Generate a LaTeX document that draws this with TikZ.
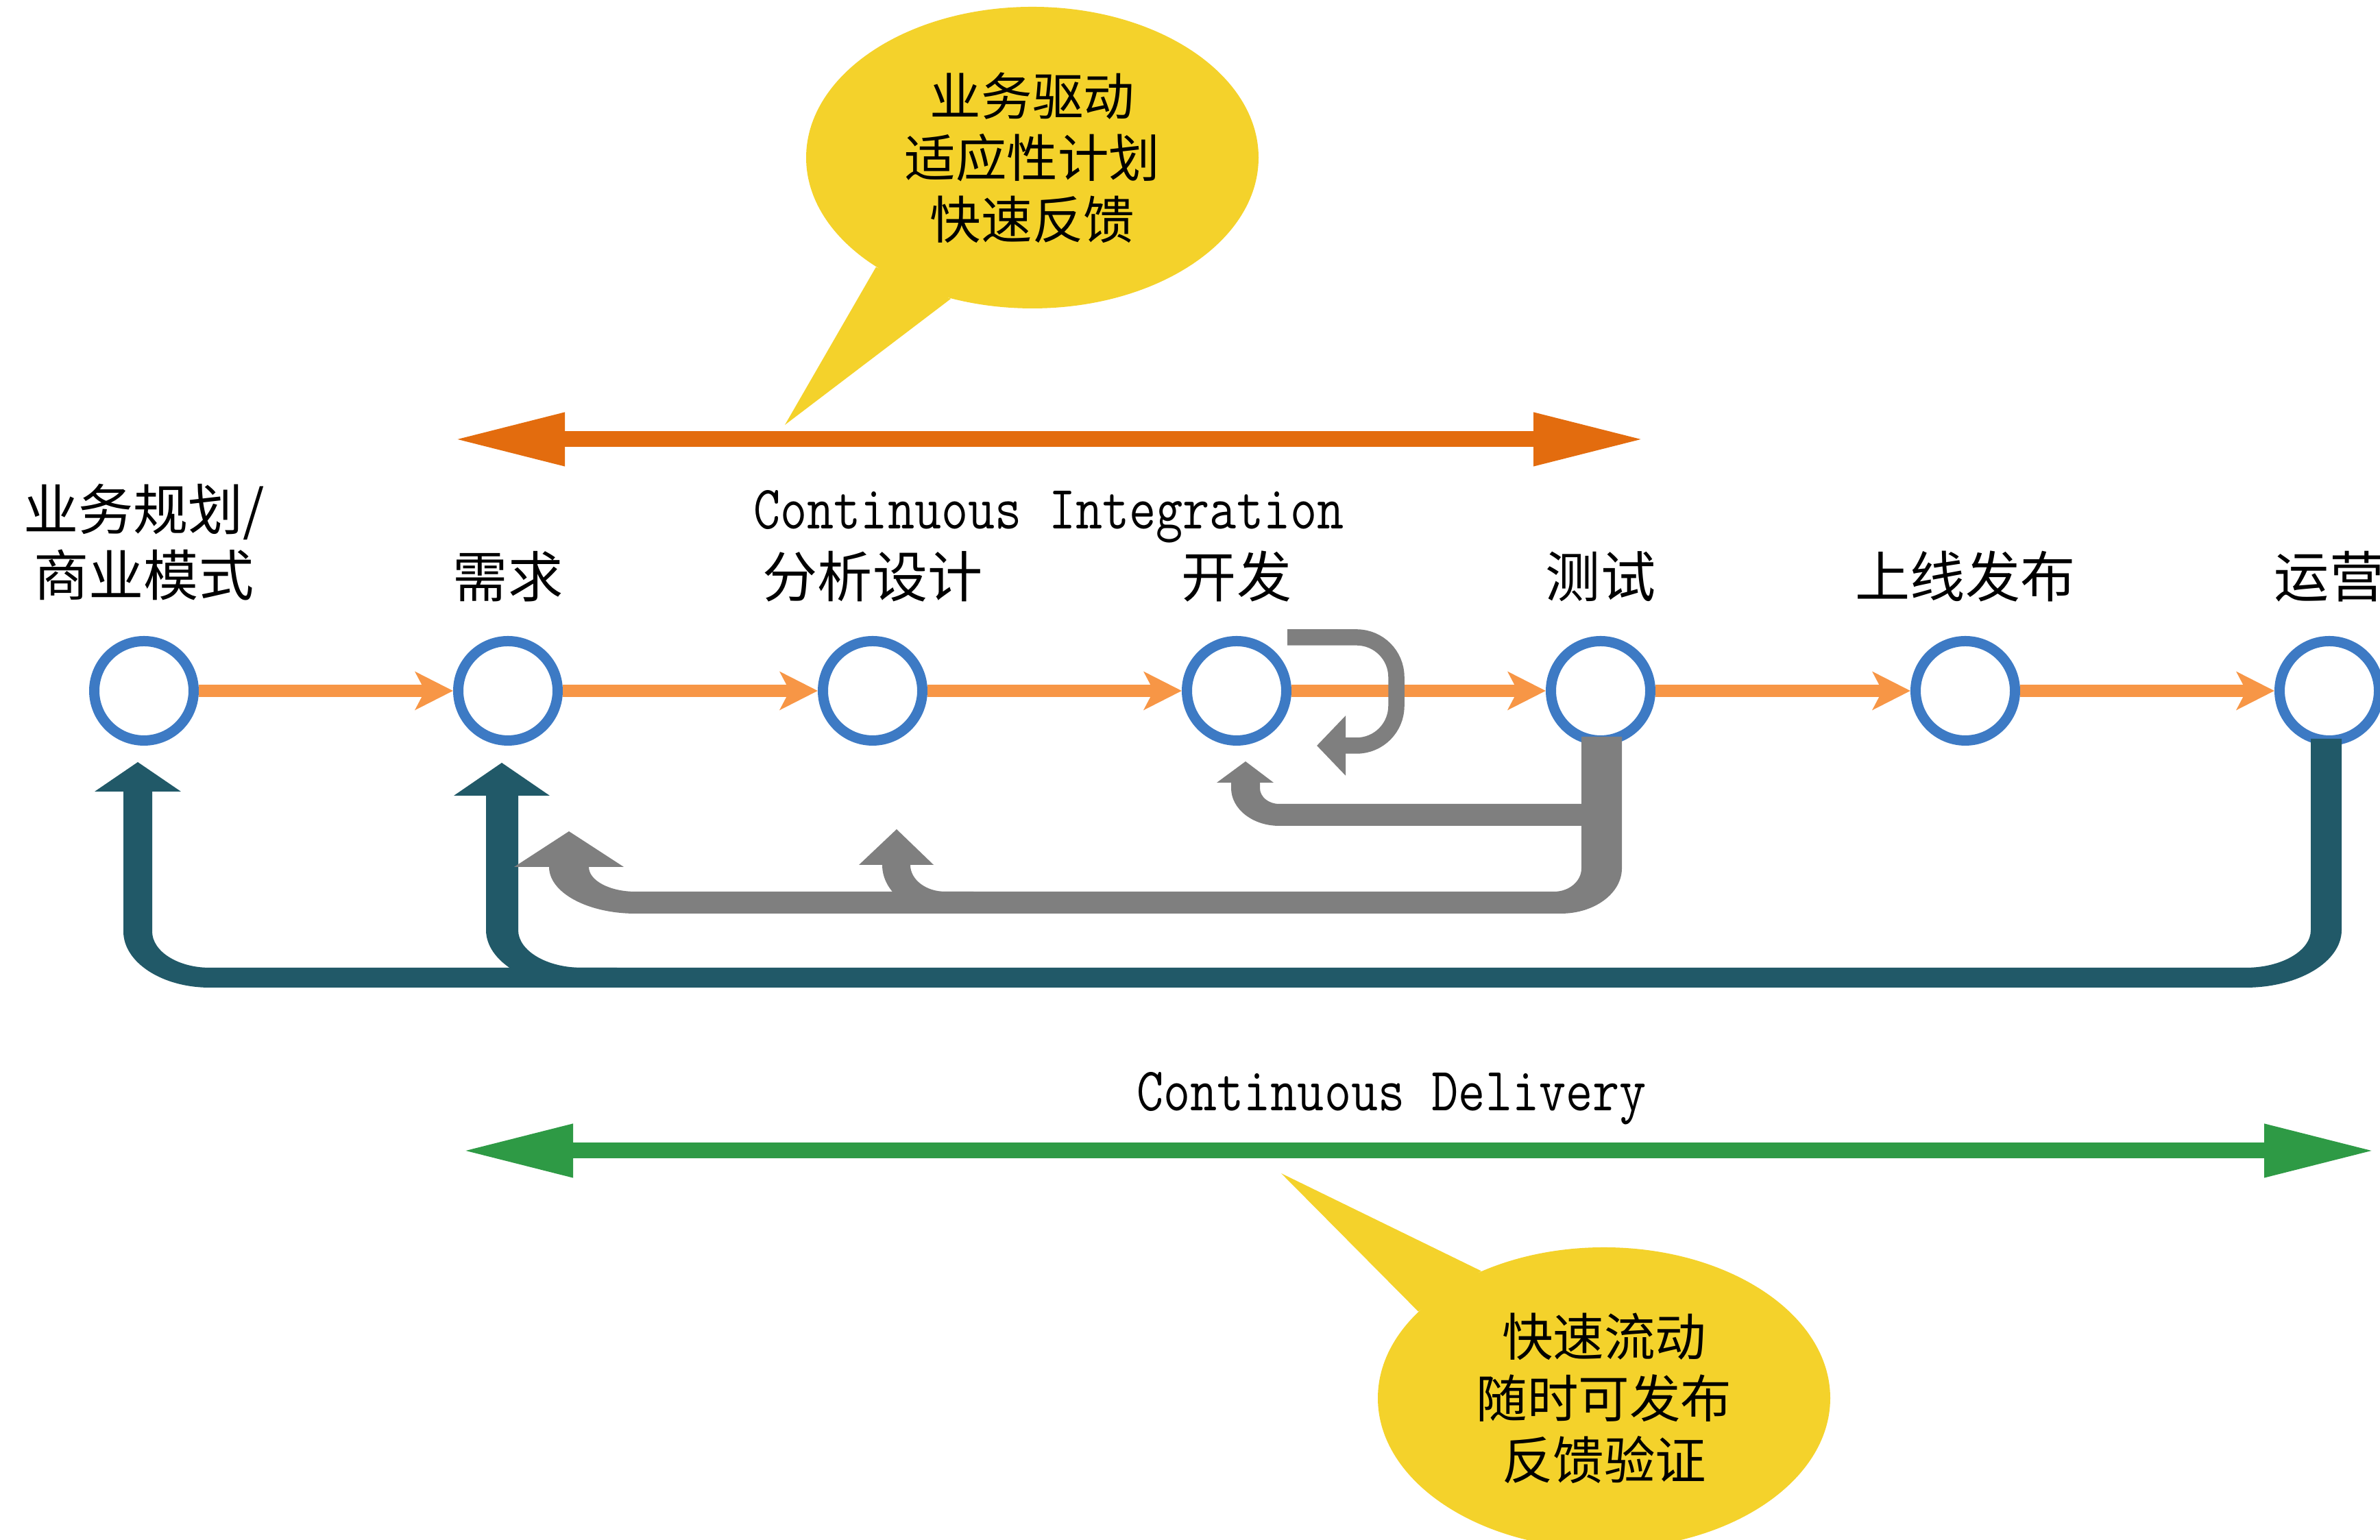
\documentclass[tikz,border=0pt]{standalone}
\usepackage{graphicx}
\usepackage{fontspec}
\newfontfamily\cjk{Noto Sans CJK SC}
\usetikzlibrary{arrows.meta,shapes.geometric}
\definecolor{flowOrange}{HTML}{F79646}
\definecolor{ringBlue}{HTML}{3D7AC4}
\definecolor{ciOrange}{HTML}{E36C0E}
\definecolor{cdGreen}{HTML}{2E9A45}
\definecolor{noteYellow}{HTML}{F4D22B}
\definecolor{opsTeal}{HTML}{215968}
\definecolor{loopGray}{HTML}{7F7F7F}

\begin{document}
\begin{tikzpicture}[
  stage/.style={circle, draw=ringBlue, fill=white, line width=0.15cm, minimum size=1.45cm, inner sep=0pt},
  stagelabel/.style={inner sep=0pt, align=center, font=\cjk\fontsize{22.8pt}{27.3pt}\selectfont},
  flow/.style={draw=flowOrange, line width=0.18cm, -{Stealth[length=0.55cm,width=0.55cm,inset=0.14cm]}},
  spanline/.style={line width=0.23cm, {Triangle[length=1.63cm,width=0.72cm]}-{Triangle[length=1.63cm,width=0.72cm]}},
  note/.style={ellipse, fill=noteYellow, minimum width=6.6cm, minimum height=4.4cm, inner sep=0pt, align=center, font=\cjk\fontsize{21.2pt}{25.6pt}\selectfont},
  monolabel/.style={inner sep=0pt, anchor=base, font=\ttfamily\fontsize{25.6pt}{30pt}\selectfont},
  rework/.style={fill=loopGray},
  reworkline/.style={draw=loopGray, line width=0.235cm, rounded corners=0.58cm, -{Triangle[length=0.42cm,width=0.85cm]}},
  opsback/.style={fill=opsTeal}
]
\useasboundingbox (0,0) rectangle (34.72,22.47);
\clip (0,0) rectangle (34.72,22.47);

\node[stage] (c1) at (2.10,12.39) {};
\node[stage] (c2) at (7.41,12.39) {};
\node[stage] (c3) at (12.73,12.39) {};
\node[stage] (c4) at (18.04,12.39) {};
\node[stage] (c5) at (23.35,12.39) {};
\node[stage] (c6) at (28.67,12.39) {};
\node[stage] (c7) at (33.98,12.39) {};

\node[stagelabel] (l1) at ([yshift=2.17cm]c1.center) {业务规划/\\商业模式};
\node[stagelabel] (l2) at ([yshift=1.67cm]c2.center) {需求};
\node[stagelabel] (l3) at ([yshift=1.67cm]c3.center) {分析设计};
\node[stagelabel] (l4) at ([yshift=1.67cm]c4.center) {开发};
\node[stagelabel] (l5) at ([yshift=1.67cm]c5.center) {测试};
\node[stagelabel] (l6) at ([yshift=1.67cm]c6.center) {上线发布};
\node[stagelabel] (l7) at ([yshift=1.67cm]c7.center) {运营};

\draw[flow] (c1) -- (c2);
\draw[flow] (c2) -- (c3);
\draw[flow] (c3) -- (c4);
\draw[flow] (c4) -- (c5);
\draw[flow] (c5) -- (c6);
\draw[flow] (c6) -- (c7);

\node[monolabel] (ci) at (15.30,14.75) {\scalebox{0.845}[1]{Continuous Integration}};
\node[monolabel] (cd) at (20.30,6.26) {\scalebox{0.845}[1]{Continuous Delivery}};

\coordinate (ciL) at (6.61,16.06);
\coordinate (ciR) at (24.00,16.06);
\draw[spanline, draw=ciOrange, fill=ciOrange] (ciL) -- (ciR);
\coordinate (cdL) at (6.73,5.68);
\coordinate (cdR) at (34.66,5.68);
\draw[spanline, draw=cdGreen, fill=cdGreen] (cdL) -- (cdR);

\fill[opsback] (33.71,11.69) -- (33.71,8.90) arc[start angle=0,end angle=-90,x radius=0.95,y radius=0.55]
  -- (8.49,8.35) arc[start angle=270,end angle=180,x radius=0.93,y radius=0.55]
  -- (7.56,10.86) -- (8.02,10.86) -- (7.32,11.34) -- (6.62,10.86) -- (7.09,10.86)
  -- (7.09,8.90) arc[start angle=180,end angle=270,x radius=1.40,y radius=0.84]
  -- (32.76,8.06) arc[start angle=270,end angle=360,x radius=1.40,y radius=0.84]
  -- (34.16,11.69) -- cycle;
\fill[opsback] (2.22,10.92) -- (2.22,8.88) arc[start angle=180,end angle=270,x radius=0.84,y radius=0.53]
  -- (9.00,8.35) -- (9.00,8.06) -- (3.06,8.06) arc[start angle=270,end angle=180,x radius=1.26,y radius=0.82]
  -- (1.80,10.92) -- (1.38,10.92) -- (2.01,11.35) -- (2.64,10.92) -- cycle;

\fill[rework] (23.07,11.72) -- (23.07,9.80) arc[start angle=0,end angle=-90,x radius=0.40,y radius=0.34]
  -- (9.27,9.46) arc[start angle=270,end angle=180,x radius=0.68,y radius=0.36]
  -- (9.10,9.82) -- (8.30,10.34) -- (7.50,9.82) -- (8.01,9.82)
  arc[start angle=180,end angle=270,x radius=1.26,y radius=0.68]
  -- (22.77,9.14) arc[start angle=270,end angle=360,x radius=0.89,y radius=0.66]
  -- (23.66,11.72) -- cycle;
\fill[rework] (13.28,9.85) -- (13.62,9.85) -- (13.08,10.37) -- (12.53,9.85) -- (12.87,9.85)
  arc[start angle=180,end angle=270,x radius=0.90,y radius=0.71]
  -- (14.20,9.14) -- (14.20,9.46) -- (13.79,9.46) arc[start angle=270,end angle=180,x radius=0.51,y radius=0.39] -- cycle;
\fill[rework] (23.10,10.74) -- (18.66,10.74) arc[start angle=270,end angle=180,x radius=0.28,y radius=0.23]
  -- (18.38,11.05) -- (18.58,11.05) -- (18.17,11.36) -- (17.75,11.05) -- (17.96,11.05)
  -- (17.96,10.97) arc[start angle=180,end angle=270,x radius=0.70,y radius=0.55]
  -- (23.10,10.42) -- cycle;
\draw[reworkline] (18.78,13.17) -- (20.37,13.17) -- (20.37,11.59) -- (19.21,11.59);

\node[note] (ciNote) at (15.06,20.17) {业务驱动\\适应性计划\\快速反馈};
\coordinate (ciTip) at (11.45,16.27);
\fill[noteYellow] (ciNote.215) -- (ciTip) -- (ciNote.240) -- cycle;

\node[note] (cdNote) at (23.40,2.07) {快速流动\\随时可发布\\反馈验证};
\coordinate (cdTip) at (18.69,5.35);
\fill[noteYellow] (cdNote.134) -- (cdTip) -- (cdNote.155) -- cycle;
\end{tikzpicture}
\end{document}
